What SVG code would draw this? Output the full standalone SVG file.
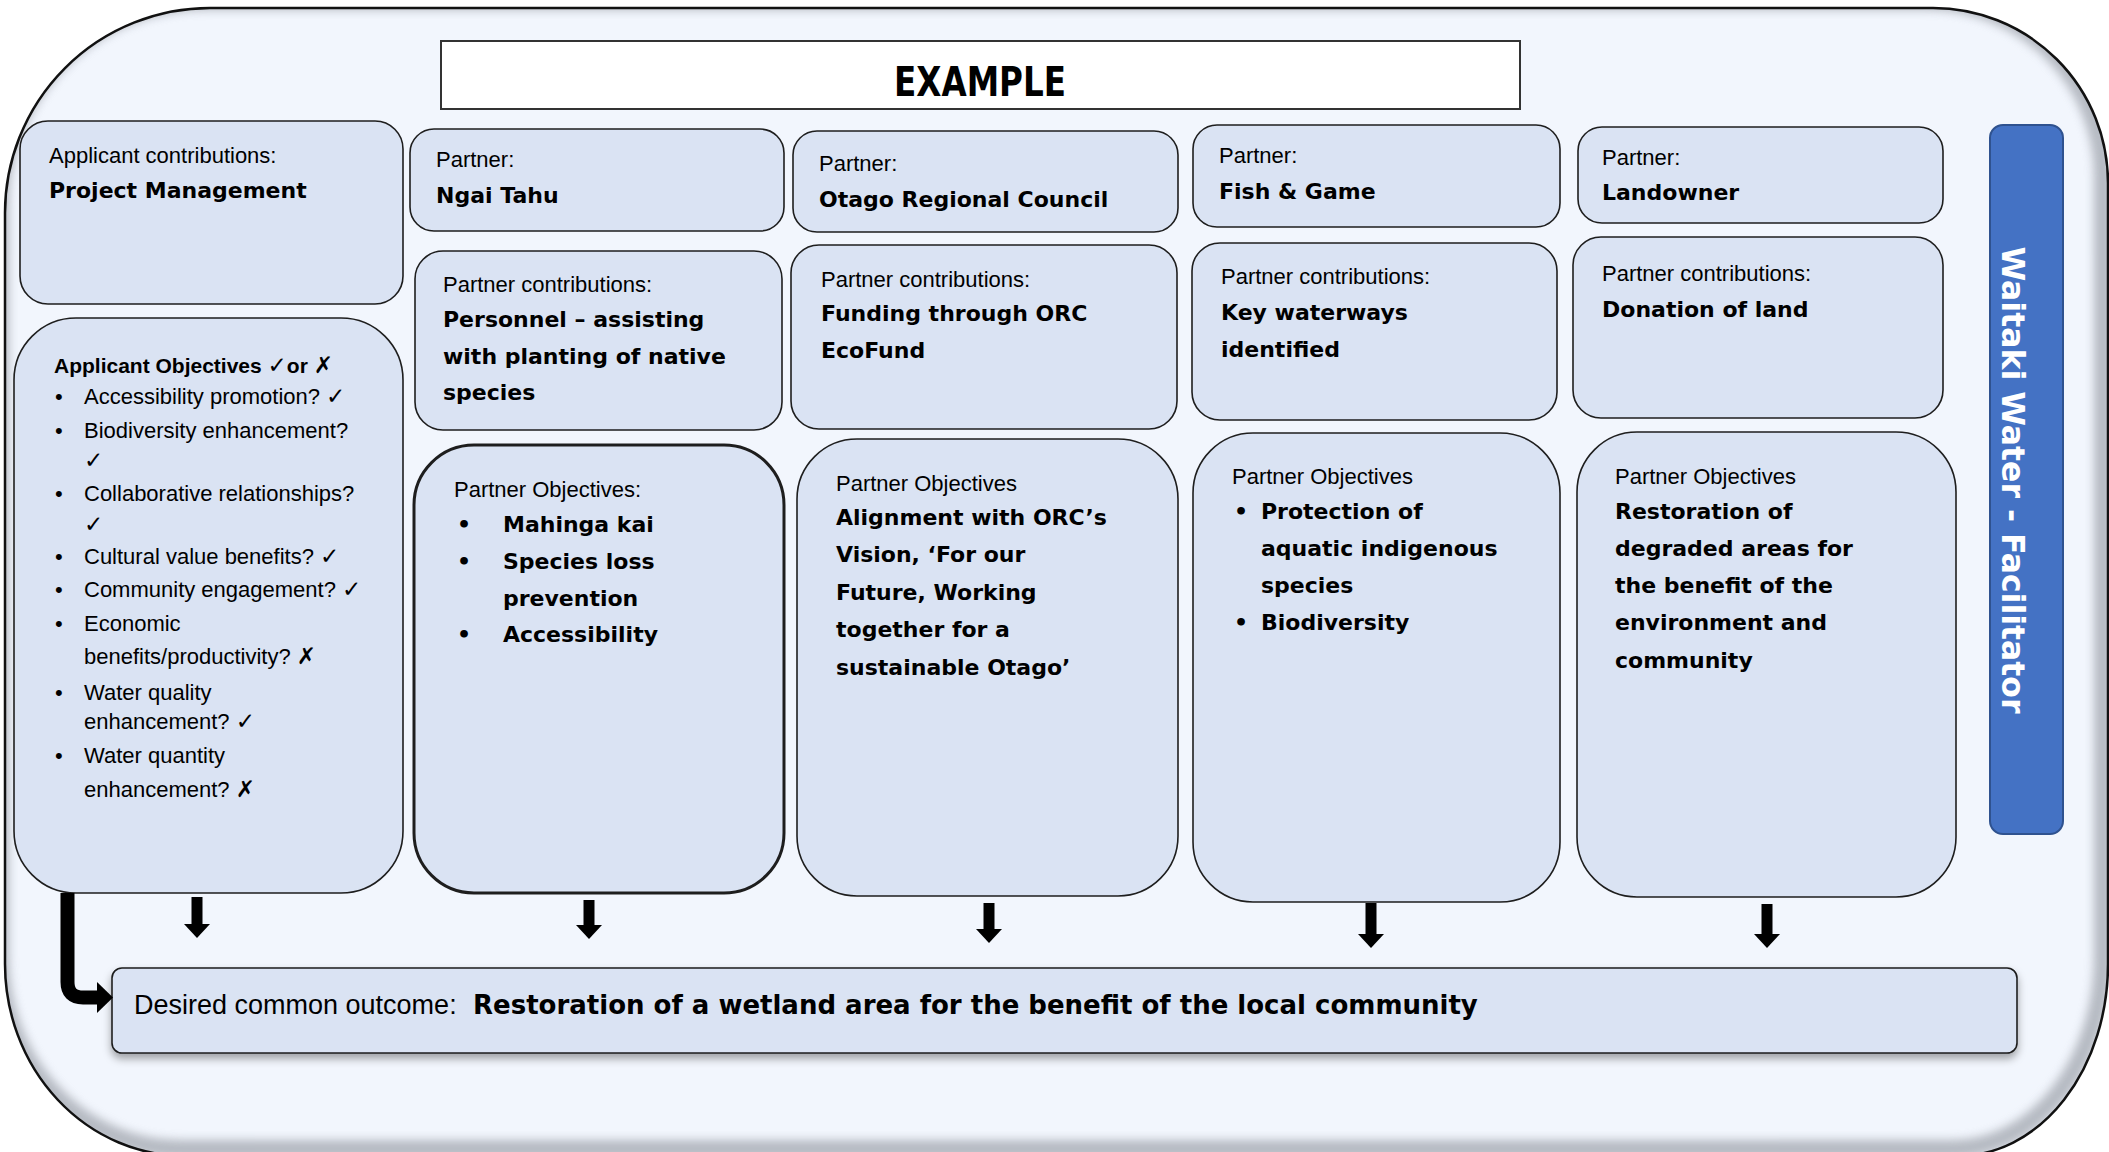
<svg xmlns="http://www.w3.org/2000/svg" width="2109" height="1152" viewBox="0 0 2109 1152">
<style>
.box{fill:#dae3f3;stroke:#1e1e1e;stroke-width:1.6}
.cal{font-family:"Liberation Sans","DejaVu Sans",sans-serif;font-size:22px;fill:#000}
.calb{font-family:"Liberation Sans","DejaVu Sans",sans-serif;font-size:21px;font-weight:bold;fill:#000}
.com{font-family:"DejaVu Sans",sans-serif;font-size:22px;font-weight:bold;fill:#000}
.mk{font-family:"DejaVu Sans",sans-serif;font-weight:bold;font-size:23px}
.conn{fill:none;stroke:#000;stroke-width:11}
</style>
<defs>
<clipPath id="fc"><path d="M210 8H1933A175 175 0 0 1 2108 183V964A150 192 0 0 1 1958 1156H185A180 192 0 0 1 5 964V213A205 205 0 0 1 210 8Z"/></clipPath>
<filter id="blur" x="-5%" y="-5%" width="110%" height="110%"><feGaussianBlur stdDeviation="5"/></filter>
<filter id="shadow" x="-2%" y="-20%" width="104%" height="160%"><feDropShadow dx="0" dy="5" stdDeviation="4" flood-color="#000" flood-opacity="0.35"/></filter>
<marker id="ah" markerUnits="userSpaceOnUse" markerWidth="14" markerHeight="26" viewBox="0 0 14 26" refX="0" refY="13" orient="auto"><path d="M0 0L14 13L0 26Z" fill="#000"/></marker>
<marker id="ahL" markerUnits="userSpaceOnUse" markerWidth="16" markerHeight="31" viewBox="0 0 16 31" refX="0" refY="15.5" orient="auto"><path d="M0 0L16 15.5L0 31Z" fill="#000"/></marker>
</defs>

<g id="frame">
<path d="M210 8H1933A175 175 0 0 1 2108 183V964A150 192 0 0 1 1958 1156H185A180 192 0 0 1 5 964V213A205 205 0 0 1 210 8Z" fill="#f2f6fd"/>
<g clip-path="url(#fc)"><path d="M210 8H1933A175 175 0 0 1 2108 183V964A150 192 0 0 1 1958 1156H185A180 192 0 0 1 5 964V213A205 205 0 0 1 210 8Z" fill="none" stroke="#8e939b" stroke-width="18" opacity="0.6" filter="url(#blur)" transform="translate(-5,-7)"/></g>
<path d="M210 8H1933A175 175 0 0 1 2108 183V964A150 192 0 0 1 1958 1156H185A180 192 0 0 1 5 964V213A205 205 0 0 1 210 8Z" fill="none" stroke="#111" stroke-width="2.5"/>
</g>

<g id="title">
<rect x="441" y="41" width="1079" height="68" fill="#fff" stroke="#333" stroke-width="2"/>
<text x="980" y="96" text-anchor="middle" font-family="DejaVu Sans, sans-serif" font-weight="bold" font-size="40" textLength="172" lengthAdjust="spacingAndGlyphs">EXAMPLE</text>
</g>

<g id="applicant-contributions">
<rect class="box" x="20" y="121" width="383" height="183" rx="28"/>
<text class="cal" x="49" y="163">Applicant contributions:</text>
<text class="com" x="49" y="198">Project Management</text>
</g>

<g id="partner-ngai-tahu">
<rect class="box" x="410" y="129" width="374" height="102" rx="24"/>
<text class="cal" x="436" y="167">Partner:</text>
<text class="com" x="436" y="203">Ngai Tahu</text>
</g>
<g id="partner-orc">
<rect class="box" x="793" y="131" width="385" height="101" rx="24"/>
<text class="cal" x="819" y="171">Partner:</text>
<text class="com" x="819" y="207">Otago Regional Council</text>
</g>
<g id="partner-fish-game">
<rect class="box" x="1193" y="125" width="367" height="102" rx="24"/>
<text class="cal" x="1219" y="163">Partner:</text>
<text class="com" x="1219" y="199">Fish &amp; Game</text>
</g>
<g id="partner-landowner">
<rect class="box" x="1578" y="127" width="365" height="96" rx="24"/>
<text class="cal" x="1602" y="165">Partner:</text>
<text class="com" x="1602" y="200">Landowner</text>
</g>

<g id="contrib-ngai-tahu">
<rect class="box" x="415" y="251" width="367" height="179" rx="28"/>
<text class="cal" x="443" y="292">Partner contributions:</text>
<text class="com" x="443" y="327">Personnel – assisting</text>
<text class="com" x="443" y="364">with planting of native</text>
<text class="com" x="443" y="400">species</text>
</g>
<g id="contrib-orc">
<rect class="box" x="791" y="245" width="386" height="184" rx="28"/>
<text class="cal" x="821" y="287">Partner contributions:</text>
<text class="com" x="821" y="321">Funding through ORC</text>
<text class="com" x="821" y="358">EcoFund</text>
</g>
<g id="contrib-fish-game">
<rect class="box" x="1192" y="243" width="365" height="177" rx="28"/>
<text class="cal" x="1221" y="284">Partner contributions:</text>
<text class="com" x="1221" y="320">Key waterways</text>
<text class="com" x="1221" y="357">identified</text>
</g>
<g id="contrib-landowner">
<rect class="box" x="1573" y="237" width="370" height="181" rx="28"/>
<text class="cal" x="1602" y="281">Partner contributions:</text>
<text class="com" x="1602" y="317">Donation of land</text>
</g>

<g id="applicant-objectives">
<rect class="box" x="14" y="318" width="389" height="575" rx="62"/>
<text class="calb" x="54" y="373">Applicant Objectives <tspan class="mk">✓</tspan>or <tspan class="mk">✗</tspan></text>
<g class="cal">
<text x="55" y="404">•</text><text x="84" y="404">Accessibility promotion? <tspan class="mk">✓</tspan></text>
<text x="55" y="438">•</text><text x="84" y="438">Biodiversity enhancement?</text>
<text x="84" y="468" class="mk">✓</text>
<text x="55" y="501">•</text><text x="84" y="501">Collaborative relationships?</text>
<text x="84" y="532" class="mk">✓</text>
<text x="55" y="564">•</text><text x="84" y="564">Cultural value benefits? <tspan class="mk">✓</tspan></text>
<text x="55" y="597">•</text><text x="84" y="597">Community engagement? <tspan class="mk">✓</tspan></text>
<text x="55" y="631">•</text><text x="84" y="631">Economic</text>
<text x="84" y="664">benefits/productivity? <tspan class="mk">✗</tspan></text>
<text x="55" y="700">•</text><text x="84" y="700">Water quality</text>
<text x="84" y="729">enhancement? <tspan class="mk">✓</tspan></text>
<text x="55" y="763">•</text><text x="84" y="763">Water quantity</text>
<text x="84" y="797">enhancement? <tspan class="mk">✗</tspan></text>
</g>
</g>

<g id="objectives-ngai-tahu">
<rect class="box" x="414" y="445" width="370" height="448" rx="60" style="stroke-width:3"/>
<text class="cal" x="454" y="497">Partner Objectives:</text>
<text class="com" x="457" y="532">•</text><text class="com" x="503" y="532">Mahinga kai</text>
<text class="com" x="457" y="569">•</text><text class="com" x="503" y="569">Species loss</text>
<text class="com" x="503" y="606">prevention</text>
<text class="com" x="457" y="642">•</text><text class="com" x="503" y="642">Accessibility</text>
</g>
<g id="objectives-orc">
<rect class="box" x="797" y="439" width="381" height="457" rx="60"/>
<text class="cal" x="836" y="491">Partner Objectives</text>
<text class="com" x="836" y="525">Alignment with ORC’s</text>
<text class="com" x="836" y="562">Vision, ‘For our</text>
<text class="com" x="836" y="600">Future, Working</text>
<text class="com" x="836" y="637">together for a</text>
<text class="com" x="836" y="675">sustainable Otago’</text>
</g>
<g id="objectives-fish-game">
<rect class="box" x="1193" y="433" width="367" height="469" rx="60"/>
<text class="cal" x="1232" y="484">Partner Objectives</text>
<text class="com" x="1234" y="519">•</text><text class="com" x="1261" y="519">Protection of</text>
<text class="com" x="1261" y="556">aquatic indigenous</text>
<text class="com" x="1261" y="593">species</text>
<text class="com" x="1234" y="630">•</text><text class="com" x="1261" y="630">Biodiversity</text>
</g>
<g id="objectives-landowner">
<rect class="box" x="1577" y="432" width="379" height="465" rx="60"/>
<text class="cal" x="1615" y="484">Partner Objectives</text>
<text class="com" x="1615" y="519">Restoration of</text>
<text class="com" x="1615" y="556">degraded areas for</text>
<text class="com" x="1615" y="593">the benefit of the</text>
<text class="com" x="1615" y="630">environment and</text>
<text class="com" x="1615" y="668">community</text>
</g>

<g id="facilitator">
<rect x="1990" y="125" width="73" height="709" rx="13" fill="#4472c4" stroke="#2f528f" stroke-width="2"/>
<text transform="translate(2002,480) rotate(90)" text-anchor="middle" font-family="DejaVu Sans, sans-serif" font-weight="bold" font-size="31.5" fill="#fff">Waitaki Water - Facilitator</text>
</g>

<g id="outcome">
<rect class="box" x="112" y="968" width="1905" height="85" rx="10" filter="url(#shadow)"/>
<text class="cal" x="134" y="1014" style="font-size:27px">Desired common outcome:</text>
<text class="com" x="473" y="1014" style="font-size:26px">Restoration of a wetland area for the benefit of the local community</text>
</g>

<g id="connectors">
<path class="conn" d="M197 897V924" marker-end="url(#ah)"/>
<path class="conn" d="M589 900V925" marker-end="url(#ah)"/>
<path class="conn" d="M989 903V929" marker-end="url(#ah)"/>
<path class="conn" d="M1371 903V934" marker-end="url(#ah)"/>
<path class="conn" d="M1767 904V934" marker-end="url(#ah)"/>
<path class="conn" d="M67.5 893V982Q67.5 997.5 83 997.5H97" style="stroke-width:14" marker-end="url(#ahL)"/>
</g>
</svg>
